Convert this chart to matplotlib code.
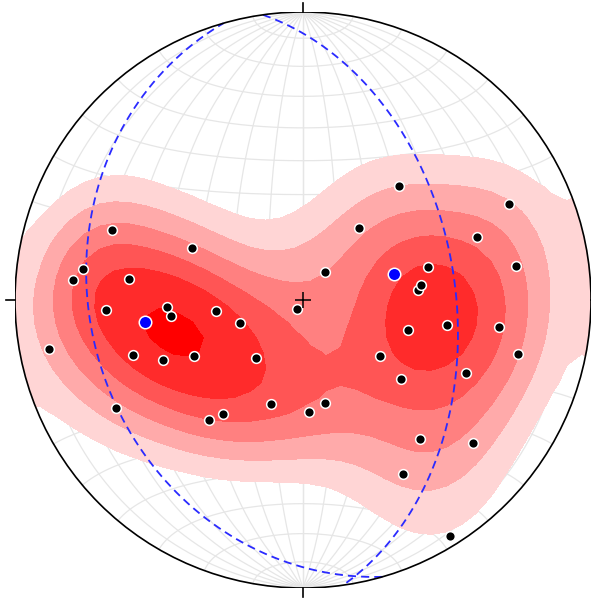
import numpy as np
import matplotlib
matplotlib.use("Agg")
import matplotlib.pyplot as plt
from matplotlib.patches import Circle

# poles to planes (trend / plunge, degrees), lower hemisphere
pole_trend = [40, 65, 290, 295, 38, 70, 39, 75, 81, 278,
              275, 277, 85, 83, 267, 267, 263, 263, 250, 214,
              106, 100, 98, 259, 252, 247, 243, 219, 126, 104,
              114, 129, 240, 197, 215, 218, 177, 168, 140, 130,
              150, 148]
pole_plunge = [47, 22, 30, 55, 64, 36, 80, 53, 26, 24,
               21, 39, 57, 56, 32, 51, 52, 65, 71, 87,
               59, 48, 32, 11, 38, 46, 55, 69, 63, 24,
               38, 54, 26, 59, 50, 46, 58, 60, 37, 24,
               31, 4]

# two mean planes (right hand rule strike / dip)
plane_strike = [352, 164]
plane_dip = [46, 27]

# density bands
sigma = 2.5
levels = [1, 2, 3, 4, 5, 6.25, 100]
band_colors = ['#ffd5d5', '#ffaaaa', '#ff8080', '#ff5555', '#ff2b2b', '#ff0000']


def vec(trend, plunge):
    t, p = np.radians(trend), np.radians(plunge)
    return np.array([np.cos(p) * np.sin(t), np.cos(p) * np.cos(t), np.sin(p)])


def project(v):
    # lambert equal area, lower hemisphere, unit primitive
    e, n, d = v
    s = np.where(d < 0, -1.0, 1.0)
    e, n, d = e * s, n * s, d * s
    k = np.sqrt(1.0 / (1.0 + d))
    return e * k, n * k


def great_circle(strike, dip):
    th = np.linspace(0, np.pi, 200)
    a = vec(strike, 0)
    b = vec(strike + 90, dip)
    v = np.outer(a, np.cos(th)) + np.outer(b, np.sin(th))
    return project(v)


fig = plt.figure(figsize=(5.91, 5.98), dpi=100)
ax = fig.add_axes([15 / 591, 10 / 598, 576 / 591, 576 / 598])
ax.set_xlim(-1, 1)
ax.set_ylim(-1, 1)
ax.set_aspect('equal')
ax.axis('off')

clip = Circle((0, 0), 1, transform=ax.transData)

# equal area net, meridians converge at N and S
gcol = '#e6e6e6'
th = np.linspace(0, np.pi, 200)
N = np.array([0.0, 1.0, 0.0])
for dip in range(10, 91, 10):
    for side in (1, -1):
        u = np.array([side * np.cos(np.radians(dip)), 0.0, np.sin(np.radians(dip))])
        v = np.outer(N, np.cos(th)) + np.outer(u, np.sin(th))
        x, y = project(v)
        ax.plot(x, y, color=gcol, lw=0.9, zorder=1)
for a in range(10, 171, 10):
    ar = np.radians(a)
    v = np.outer(N, np.full_like(th, np.cos(ar))) + np.sin(ar) * np.vstack(
        [np.cos(th), np.zeros_like(th), np.sin(th)])
    x, y = project(v)
    ax.plot(x, y, color=gcol, lw=0.9, zorder=1)

# exponential kamb density
pts = np.array([vec(t, p) for t, p in zip(pole_trend, pole_plunge)])
n_pts = len(pts)
f = 2 * (1.0 + n_pts / sigma ** 2)
units = np.sqrt(n_pts * (f / 2.0 - 1) / f ** 2)

gs = 40
gx, gy = np.meshgrid(np.linspace(-1.02, 1.02, gs), np.linspace(-1.02, 1.02, gs))
r2 = gx ** 2 + gy ** 2
sc = np.where(r2 > 1, 1 / np.sqrt(np.maximum(r2, 1e-12)), 1.0)
X, Y = gx * sc, gy * sc
R2 = X ** 2 + Y ** 2
D = 1 - R2
E = X * np.sqrt(1 + D)
Nn = Y * np.sqrt(1 + D)
grid = np.stack([E.ravel(), Nn.ravel(), D.ravel()], axis=1)
cosd = np.abs(grid @ pts.T)
dens = (np.exp(f * (cosd - 1)).sum(axis=1) - 0.5) / units
dens = np.clip(dens, 0, None).reshape(gx.shape)

cf = ax.contourf(gx, gy, dens, levels=levels, colors=band_colors, zorder=2)
cf.set_clip_path(clip)

# great circles and their poles
for s, d in zip(plane_strike, plane_dip):
    x, y = great_circle(s, d)
    ax.plot(x, y, color='#2a2aff', lw=1.3, ls=(0, (4.5, 2.8)), zorder=4)

px, py = project(pts.T)
ax.plot(px, py, 'o', color='black', mec='white', mew=1.1, ms=7, zorder=5)

bx, by = project(np.array([vec(s - 90, 90 - d) for s, d in zip(plane_strike, plane_dip)]).T)
ax.plot(bx, by, 'o', color='blue', mec='white', mew=1.1, ms=9, zorder=6)

# primitive, ticks, centre
ax.add_patch(Circle((0, 0), 1, fill=False, ec='black', lw=1.2, zorder=7))
for az in (0, 90, 180, 270):
    a = np.radians(az)
    ax.plot([np.sin(a), 1.032 * np.sin(a)], [np.cos(a), 1.032 * np.cos(a)],
            color='black', lw=1.2, clip_on=False, zorder=7)
ax.plot(0, 0, '+', color='black', ms=12, mew=1.1, zorder=7)

fig.savefig('out.png', dpi=100)
